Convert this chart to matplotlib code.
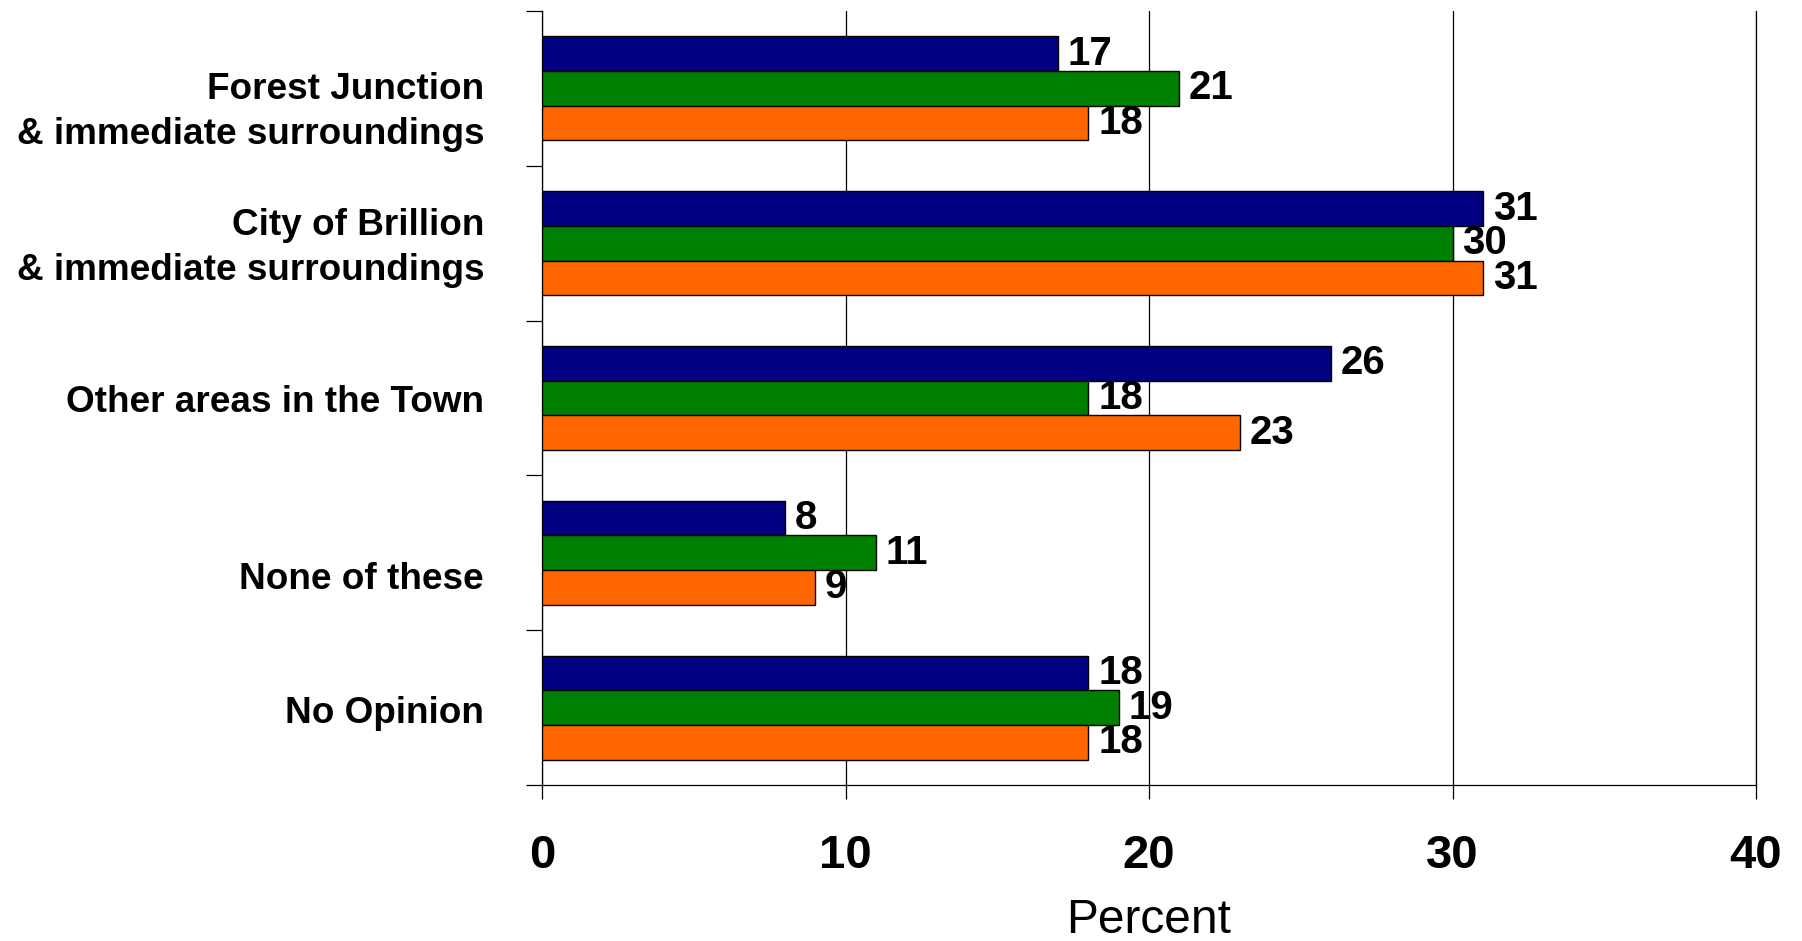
import numpy as np
import matplotlib.pyplot as plt
from matplotlib.transforms import ScaledTranslation

plt.rcParams['font.family'] = ['Liberation Sans', 'DejaVu Sans']

# categories, top to bottom
categories = ['Forest Junction\n& immediate surroundings',
              'City of Brillion\n& immediate surroundings',
              'Other areas in the Town',
              'None of these',
              'No Opinion']
series_a = [17, 31, 26, 8, 18]   # navy
series_b = [21, 30, 18, 11, 19]  # green
series_c = [18, 31, 23, 9, 18]   # orange
x_ticks = [0, 10, 20, 30, 40]

colors = ['#000080', '#008000', '#FF6600']
bar_h = 0.224
# how far (px, downward) each label block sits below its group centre in the original
label_drop = [20, 1, 1, 23, 2.5]

fig = plt.figure(figsize=(18.02, 9.41), dpi=100)
ax = fig.add_axes([0.3008, 0.1658, 0.9745 - 0.3008, 0.9883 - 0.1658])

y = np.arange(len(categories))
for k, (vals, col) in enumerate(zip([series_a, series_b, series_c], colors)):
    bars = ax.barh(y + (k - 1) * bar_h, vals, height=bar_h, color=col,
                   edgecolor='black', linewidth=1.0, zorder=3)
    ax.bar_label(bars, labels=[str(v) for v in vals], padding=7,
                 fontsize=29, fontweight='bold', zorder=4)

ax.set_xlim(0, 40)
ax.set_ylim(len(categories) - 0.5, -0.5)

ax.set_xticks(x_ticks)
ax.set_xticklabels([str(t) for t in x_ticks], fontsize=34, fontweight='bold')
ax.tick_params(axis='x', length=10, width=0.9, color='black', pad=25.5)
ax.xaxis.grid(True, color='black', linewidth=0.9, zorder=0)

ax.set_yticks(y)
ax.set_yticklabels([])
ax.tick_params(axis='y', which='major', length=0)
ax.set_yticks(np.arange(len(categories) + 1) - 0.5, minor=True)
ax.tick_params(axis='y', which='minor', length=11.5, width=0.9, color='black')

# category labels drawn by hand so the two-line blocks can sit like the original
fs = 26.6
cap_px = 26.5
pitch_px = 44.5
for i, lab in enumerate(categories):
    n = lab.count('\n') + 1
    base_px = label_drop[i] + (n - 1) * pitch_px / 2 + cap_px / 2
    tr = ax.get_yaxis_transform() + ScaledTranslation(-0.58, -base_px / 100, fig.dpi_scale_trans)
    ax.text(0, i, lab, transform=tr, ha='right', va='baseline', fontsize=fs,
            fontweight='bold', linespacing=1.354, multialignment='right')

ax.set_xlabel('Percent', fontsize=34.5, labelpad=14)

ax.spines['top'].set_visible(False)
for side in ['left', 'bottom', 'right']:
    ax.spines[side].set_linewidth(0.9)
    ax.spines[side].set_color('black')

fig.savefig('out.png', dpi=100)
